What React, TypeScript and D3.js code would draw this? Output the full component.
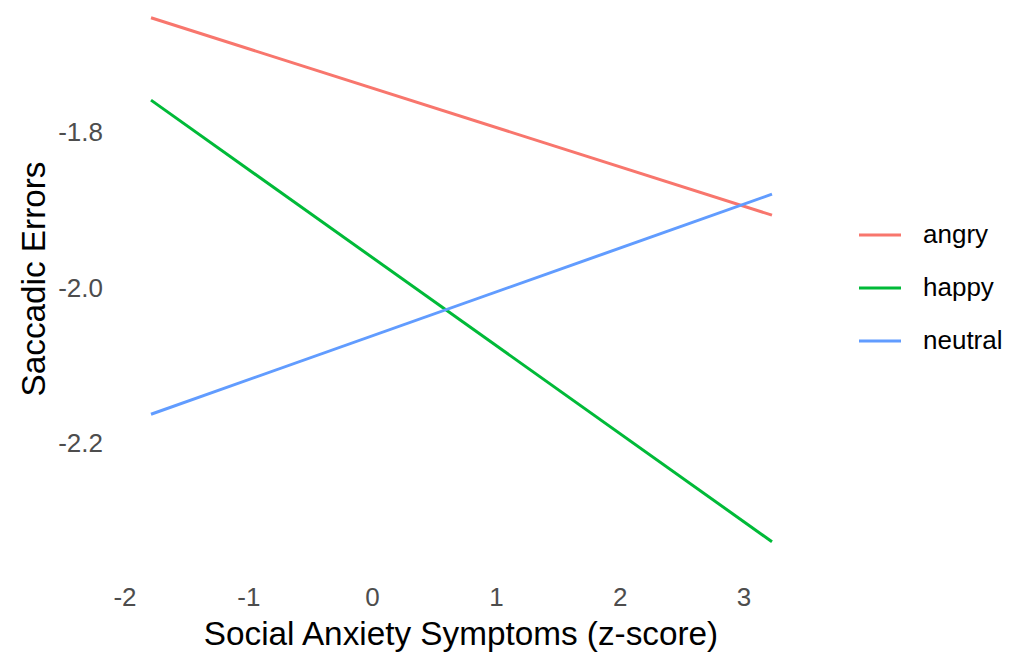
import React from "react";
import * as d3 from "d3";

// Predicted saccadic errors across social anxiety symptom levels, per emotion
const xEnds = [-1.79, 3.226];
const angry = [-1.653, -1.907];
const happy = [-1.759, -2.327];
const neutral = [-2.163, -1.88];
const seriesNames = ["angry", "happy", "neutral"];
const seriesValues = [angry, happy, neutral];
const seriesColors = ["#F8766D", "#00BA38", "#619CFF"];
const xTicks = [-2, -1, 0, 1, 2, 3];
const yTicks = [-2.2, -2.0, -1.8];

const W = 1012;
const H = 654;
const FONT = "'Liberation Sans', Arial, sans-serif";

export default function App() {
  const x = d3.scaleLinear().domain([-2, 3]).range([125, 744]);
  const y = d3.scaleLinear().domain([-2.2, -1.8]).range([443, 132]);

  const line = d3
    .line<[number, number]>()
    .x((d) => x(d[0]))
    .y((d) => y(d[1]));

  return (
    <svg
      width={W}
      height={H}
      style={{ position: "absolute", left: 0, top: 0, background: "#fff" }}
      fontFamily={FONT}
    >
      {seriesValues.map((vals, i) => (
        <path
          key={seriesNames[i]}
          d={line(xEnds.map((xv, j) => [xv, vals[j]] as [number, number])) || ""}
          fill="none"
          stroke={seriesColors[i]}
          strokeWidth={3}
        />
      ))}

      {yTicks.map((t) => (
        <text
          key={t}
          x={103}
          y={y(t)}
          dy="0.36em"
          textAnchor="end"
          fontSize={26}
          fill="#4D4D4D"
        >
          {d3.format(".1f")(t).replace("−", "-")}
        </text>
      ))}

      {xTicks.map((t) => (
        <text
          key={t}
          x={x(t)}
          y={606}
          textAnchor="middle"
          fontSize={26}
          fill="#4D4D4D"
        >
          {String(t)}
        </text>
      ))}

      <text x={461} y={645} textAnchor="middle" fontSize={33.3} fill="#000">
        Social Anxiety Symptoms (z-score)
      </text>
      <text
        transform={`translate(45,279) rotate(-90)`}
        textAnchor="middle"
        fontSize={33.3}
        fill="#000"
      >
        Saccadic Errors
      </text>

      {seriesNames.map((name, i) => {
        const cy = 235 + i * 53;
        return (
          <g key={name}>
            <line
              x1={859}
              x2={901}
              y1={cy}
              y2={cy}
              stroke={seriesColors[i]}
              strokeWidth={3}
            />
            <text x={923} y={cy} dy="0.32em" fontSize={26} fill="#000">
              {name}
            </text>
          </g>
        );
      })}
    </svg>
  );
}
